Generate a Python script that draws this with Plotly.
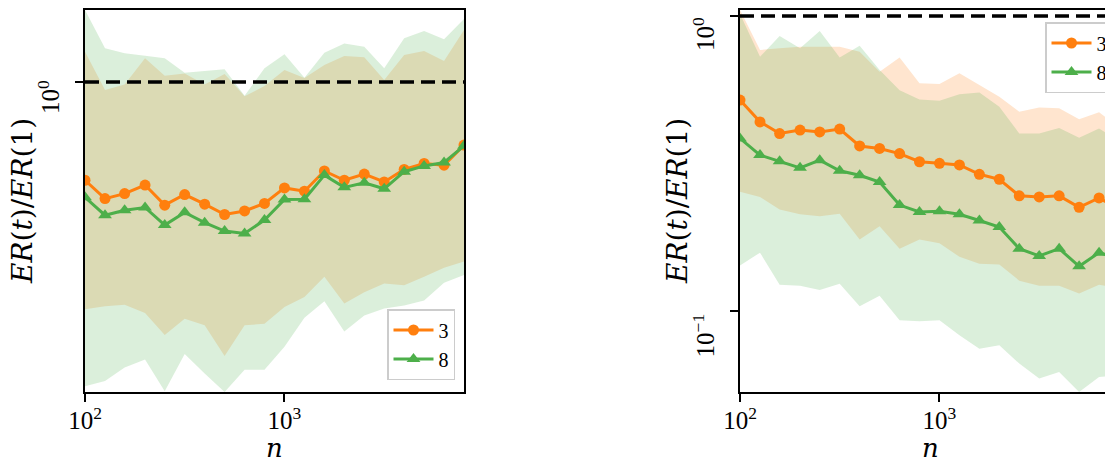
import math
import plotly.graph_objects as go

# ---------------- data ----------------
n = [100, 126, 158, 200, 251, 316, 398, 501, 631, 794, 1000, 1259, 1585, 1995,
     2512, 3162, 3981, 5012, 6310, 7943]
series_names = ["3", "8"]
REF_LEVEL = 1.0

NB = "&nbsp;"
x_tick_vals = [100, 1000]
x_tick_text = ["10<sup>2</sup>", "10<sup>3</sup>"]
left_y_tick_vals = [1.0]
left_y_tick_text = ["10<sup>0</sup>" + NB * 6]
right_y_tick_vals = [0.1, 1.0]
right_y_tick_text = ["10<sup>\u22121</sup>" + NB * 9, "10<sup>0</sup>" + NB * 7]

# left panel
left_mean_3 = [0.465, 0.403, 0.419, 0.448, 0.383, 0.416, 0.386, 0.356, 0.366, 0.388,
               0.438, 0.427, 0.500, 0.465, 0.488, 0.459, 0.506, 0.530, 0.523, 0.612]
left_mean_8 = [0.407, 0.354, 0.368, 0.376, 0.328, 0.362, 0.334, 0.313, 0.307, 0.341,
               0.400, 0.401, 0.484, 0.440, 0.456, 0.435, 0.497, 0.520, 0.534, 0.608]
left_upper_3 = [1.267, 0.940, 0.982, 1.203, 1.050, 1.069, 0.982, 1.064, 0.896, 0.969,
                1.098, 1.032, 1.142, 1.225, 1.213, 1.016, 1.235, 1.274, 1.178, 1.501]
left_lower_3 = [0.170, 0.174, 0.176, 0.165, 0.139, 0.158, 0.150, 0.118, 0.150, 0.152,
                0.173, 0.187, 0.219, 0.178, 0.194, 0.208, 0.205, 0.219, 0.235, 0.247]
left_upper_8 = [1.754, 1.301, 1.251, 1.228, 1.203, 1.075, 1.090, 1.104, 0.899, 1.113,
                1.242, 1.034, 1.257, 1.352, 1.317, 1.113, 1.406, 1.489, 1.395, 1.635]
left_lower_8 = [0.0932, 0.0972, 0.108, 0.115, 0.0897, 0.120, 0.103, 0.0892, 0.106, 0.106,
                0.127, 0.159, 0.181, 0.143, 0.162, 0.171, 0.175, 0.182, 0.209, 0.222]

# right panel
right_mean_3 = [0.519, 0.438, 0.400, 0.411, 0.405, 0.414, 0.363, 0.356, 0.342, 0.321,
                0.317, 0.313, 0.291, 0.280, 0.246, 0.244, 0.246, 0.225, 0.242, 0.222]
right_mean_8 = [0.385, 0.338, 0.322, 0.306, 0.325, 0.299, 0.289, 0.274, 0.229, 0.217,
                0.218, 0.213, 0.203, 0.193, 0.163, 0.154, 0.163, 0.142, 0.158, 0.151]
right_upper_3 = [1.048, 0.767, 0.777, 0.787, 0.787, 0.787, 0.757, 0.647, 0.724, 0.592,
                 0.588, 0.640, 0.584, 0.533, 0.474, 0.490, 0.487, 0.447, 0.472, 0.421]
right_lower_3 = [0.254, 0.244, 0.221, 0.213, 0.210, 0.214, 0.175, 0.194, 0.163, 0.175,
                 0.170, 0.153, 0.145, 0.144, 0.127, 0.122, 0.122, 0.115, 0.123, 0.120]
right_upper_8 = [1.016, 0.728, 0.855, 0.777, 0.890, 0.724, 0.793, 0.656, 0.561, 0.522,
                 0.516, 0.543, 0.551, 0.493, 0.400, 0.400, 0.418, 0.387, 0.416, 0.376]
right_lower_8 = [0.143, 0.158, 0.123, 0.122, 0.118, 0.124, 0.104, 0.113, 0.0932, 0.0925,
                 0.0932, 0.0829, 0.0747, 0.0767, 0.0665, 0.0592, 0.0623, 0.0533, 0.0599, 0.0607]

# ---------------- styling / layout ----------------
PAGE_W, PAGE_H = 1113, 461
OFF = 8                      # default page margin around the plot div
W, H = PAGE_W - OFF, PAGE_H - OFF


def fx(px):
    return (px - OFF) / W


def fy(py):
    return 1 - (py - OFF) / H


ORANGE = "#ff7f0e"
GREEN = "#4daf4a"
ORANGE_FILL = "rgba(255,127,14,0.2)"
GREEN_FILL = "rgba(77,175,74,0.2)"
TICK_FONT = dict(family="Liberation Serif", size=25, color="black")
LABEL_FONT = dict(family="DejaVu Serif", size=28, color="black")
N_FONT = dict(family="DejaVu Serif", size=26, color="black")

left_dom = [fx(85), fx(464)]
right_dom = [fx(740), 1.0]
full_w = left_dom[1] - left_dom[0]
y_dom = [fy(392), fy(10)]

x0_log, x1_log = math.log10(n[0]), math.log10(n[-1])
left_xrange = [x0_log, x1_log]
# the right panel is as wide as the left one but cut off by the page edge
right_xrange = [x0_log, x0_log + (x1_log - x0_log) * (right_dom[1] - right_dom[0]) / full_w]

panels = [
    dict(xa="x", ya="y", legend="legend",
         means=[left_mean_3, left_mean_8],
         uppers=[left_upper_3, left_upper_8],
         lowers=[left_lower_3, left_lower_8]),
    dict(xa="x2", ya="y2", legend="legend2",
         means=[right_mean_3, right_mean_8],
         uppers=[right_upper_3, right_upper_8],
         lowers=[right_lower_3, right_lower_8]),
]
colors = [ORANGE, GREEN]
fills = [ORANGE_FILL, GREEN_FILL]
symbols = ["circle", "triangle-up"]
msizes = [11, 12]

fig = go.Figure()
yranges = []
for p in panels:
    for i in range(2):
        fig.add_trace(go.Scatter(
            x=n + n[::-1], y=p["uppers"][i] + p["lowers"][i][::-1],
            fill="toself", fillcolor=fills[i], mode="none", line=dict(width=0),
            showlegend=False, hoverinfo="skip", xaxis=p["xa"], yaxis=p["ya"]))
    fig.add_trace(go.Scatter(
        x=[n[0], n[-1]], y=[REF_LEVEL, REF_LEVEL], mode="lines",
        line=dict(color="black", width=3.5, dash="14px,7px"),
        showlegend=False, hoverinfo="skip", xaxis=p["xa"], yaxis=p["ya"]))
    for i in range(2):
        fig.add_trace(go.Scatter(
            x=n, y=p["means"][i], mode="lines+markers", name=series_names[i],
            line=dict(color=colors[i], width=3),
            marker=dict(symbol=symbols[i], size=msizes[i], color=colors[i]),
            legend=p["legend"], xaxis=p["xa"], yaxis=p["ya"]))
    allv = p["uppers"][0] + p["uppers"][1] + p["lowers"][0] + p["lowers"][1]
    yranges.append([math.log10(min(allv)), math.log10(max(allv))])

axis_common = dict(type="log", showline=True, linecolor="black", linewidth=2,
                   ticks="outside", ticklen=8, tickwidth=1.5, tickcolor="black",
                   showgrid=False, zeroline=False, tickfont=TICK_FONT,
                   automargin=False, minor=dict(ticks=""), ticklabeloverflow="allow")

legend_common = dict(font=dict(family="Liberation Serif", size=20, color="black"),
                     bgcolor="rgba(255,255,255,0.85)", bordercolor="#cccccc",
                     borderwidth=1.5, itemwidth=40, tracegroupgap=0,
                     entrywidth=78, entrywidthmode="pixels")

fig.update_layout(
    width=W, height=H,
    margin=dict(l=0, r=0, t=0, b=0),
    paper_bgcolor="white", plot_bgcolor="white",
    xaxis=dict(axis_common, domain=left_dom, range=left_xrange, anchor="y",
               mirror=True, tickvals=x_tick_vals, ticktext=x_tick_text,
               ticklabelstandoff=-3),
    yaxis=dict(axis_common, domain=y_dom, range=yranges[0], anchor="x",
               mirror=True, tickvals=left_y_tick_vals, ticktext=left_y_tick_text,
               tickangle=-90, ticklabelstandoff=6),
    xaxis2=dict(axis_common, domain=right_dom, range=right_xrange, anchor="y2",
                mirror=True, tickvals=x_tick_vals, ticktext=x_tick_text,
                ticklabelstandoff=-3),
    yaxis2=dict(axis_common, domain=y_dom, range=yranges[1], anchor="x2",
                mirror=False, tickvals=right_y_tick_vals, ticktext=right_y_tick_text,
                tickangle=-90, ticklabelstandoff=6),
    legend=dict(legend_common, x=fx(455), y=fy(380), xanchor="right", yanchor="bottom"),
    legend2=dict(legend_common, x=1.0, y=fy(22), xanchor="right", yanchor="top"),
    showlegend=True,
    annotations=[
        dict(text="<i>n</i>", x=(left_dom[0] + left_dom[1]) / 2, y=fy(448),
             xref="paper", yref="paper", showarrow=False, font=N_FONT,
             xanchor="center", yanchor="middle"),
        dict(text="<i>n</i>", x=fx(930), y=fy(448),
             xref="paper", yref="paper", showarrow=False, font=N_FONT,
             xanchor="center", yanchor="middle"),
        dict(text="<i>ER</i>(<i>t</i>)/<i>ER</i>(1)", x=fx(23), y=fy(201),
             xref="paper", yref="paper", showarrow=False, font=LABEL_FONT,
             textangle=-90, xanchor="center", yanchor="middle"),
        dict(text="<i>ER</i>(<i>t</i>)/<i>ER</i>(1)", x=fx(678), y=fy(201),
             xref="paper", yref="paper", showarrow=False, font=LABEL_FONT,
             textangle=-90, xanchor="center", yanchor="middle"),
    ],
)

fig.write_html("out.html")
